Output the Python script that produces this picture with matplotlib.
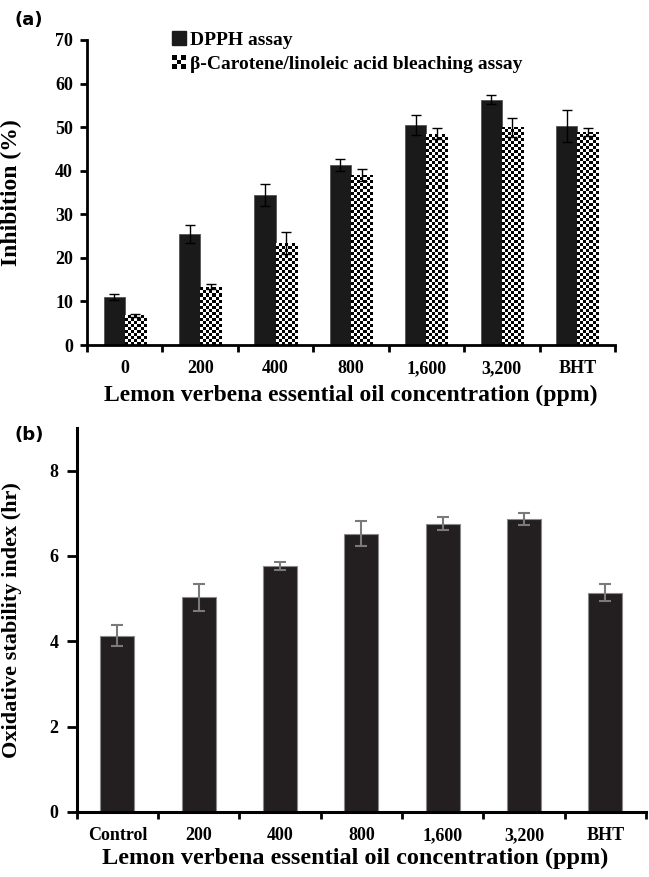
import numpy as np
import matplotlib
matplotlib.use('Agg')
import matplotlib.pyplot as plt
from matplotlib.patches import Patch, Rectangle
from matplotlib.legend_handler import HandlerBase

# DATA
CONC_A = ['0', '200', '400', '800', '1,600', '3,200', 'BHT']
DPPH = [11.1, 25.5, 34.5, 41.3, 50.5, 56.3, 50.3]
DPPH_ERR = [0.7, 2.1, 2.5, 1.4, 2.3, 1.1, 3.6]
BETA = [6.8, 13.4, 23.4, 39.0, 48.5, 50.0, 48.9]
BETA_ERR = [0.4, 0.5, 2.5, 1.4, 1.2, 2.2, 1.0]

CONC_B = ['Control', '200', '400', '800', '1,600', '3,200', 'BHT']
OSI = [4.13, 5.03, 5.77, 6.52, 6.76, 6.86, 5.14]
OSI_ERR = [0.25, 0.31, 0.10, 0.29, 0.15, 0.14, 0.20]

W, H = 649, 877
CELL_PX = 3  # size of one checker square in pixels
plt.rcParams['font.family'] = ['Liberation Serif', 'DejaVu Serif']
plt.rcParams['font.weight'] = 'bold'


class CheckerHandler(HandlerBase):
    # small 3x3 checker square for the legend
    def create_artists(self, legend, orig_handle, xdescent, ydescent,
                       width, height, fontsize, trans):
        size = min(width, height)
        x0 = -xdescent + (width - size) / 2
        y0 = -ydescent + (height - size) / 2
        c = size / 3
        artists = [Rectangle((x0, y0), size, size, facecolor='white',
                             edgecolor='none', transform=trans)]
        for i in range(3):
            for j in range(3):
                if (i + j) % 2 == 0:
                    artists.append(Rectangle((x0 + i * c, y0 + j * c), c, c,
                                             facecolor='black', edgecolor='none',
                                             transform=trans))
        return artists


def fill_checker(ax, bars, px_per_x, px_per_y):
    dx = CELL_PX / px_per_x
    dy = CELL_PX / px_per_y
    for bar in bars:
        left = bar.get_x()
        h = bar.get_height()
        ncol = int(np.ceil(bar.get_width() / dx))
        nrow = int(np.ceil(h / dy))
        grid = (np.add.outer(np.arange(nrow), np.arange(ncol)) % 2).astype(float)
        im = ax.imshow(grid, cmap='gray', vmin=0, vmax=1, origin='lower',
                       interpolation='nearest', aspect='auto',
                       extent=(left, left + ncol * dx, 0, nrow * dy), zorder=2)
        im.set_clip_path(bar)


def style_axis(ax, labels, ymax, yticks, spine_w):
    n = len(labels)
    ax.set_xlim(-0.5, n - 0.5)
    ax.set_ylim(0, ymax)
    for side in ['top', 'right']:
        ax.spines[side].set_visible(False)
    for side in ['left', 'bottom']:
        ax.spines[side].set_linewidth(spine_w)
    ax.set_xticks(np.arange(n + 1) - 0.5)
    ax.set_xticklabels([])
    ax.set_xticks(np.arange(n), minor=True)
    ax.set_xticklabels(labels, minor=True, fontsize=13, fontweight='bold')
    ax.tick_params(axis='x', which='major', direction='out', length=5, width=2)
    ax.tick_params(axis='x', which='minor', length=0, pad=11)
    ax.set_yticks(yticks)
    ax.set_yticklabels([str(t) for t in yticks], fontsize=13, fontweight='bold')
    ax.tick_params(axis='y', direction='out', length=5, width=2, pad=5)


fig = plt.figure(figsize=(W / 100, H / 100), dpi=100)

# panel (a)
ax1_w, ax1_h = 615 - 87, 345 - 40
ax1 = fig.add_axes([87 / W, 1 - 345 / H, ax1_w / W, ax1_h / H])
x = np.arange(len(CONC_A))
bw = 0.28
ax1.bar(x - bw / 2, DPPH, bw, color='#1a1a1a', edgecolor='#555555', linewidth=0.6,
        yerr=DPPH_ERR, error_kw=dict(ecolor='black', elinewidth=1, capsize=3.5, capthick=1))
beta_bars = ax1.bar(x + bw / 2, BETA, bw, color='white', linewidth=0)
style_axis(ax1, CONC_A, 70, list(range(0, 71, 10)), 2)
fill_checker(ax1, beta_bars, ax1_w / len(CONC_A), ax1_h / 70)
ax1.errorbar(x + bw / 2, BETA, yerr=BETA_ERR, fmt='none', ecolor='black',
             elinewidth=1, capsize=3.5, capthick=1, zorder=3)
ax1.set_xlim(-0.5, len(CONC_A) - 0.5)
ax1.set_ylim(0, 70)
ax1.set_ylabel('Inhibition (%)', fontsize=17, fontweight='bold')
ax1.yaxis.set_label_coords((22 - 87) / ax1_w, 0.5)

handles = [Patch(facecolor='#1a1a1a', edgecolor='#1a1a1a'), Patch()]
fig.legend(handles, ['DPPH assay', 'β-Carotene/linoleic acid bleaching assay'],
           loc='upper left', bbox_to_anchor=(172 / W, 1 - 31 / H), frameon=False,
           handler_map={handles[1]: CheckerHandler()},
           prop=dict(family=['Liberation Serif', 'DejaVu Serif'], weight='bold', size=14),
           handlelength=0.7, handleheight=0.7, handletextpad=0.25, labelspacing=0.35,
           borderpad=0, borderaxespad=0)
fig.text(351 / W, 1 - 395 / H, 'Lemon verbena essential oil concentration (ppm)',
         ha='center', va='center', fontsize=17, fontweight='bold')
fig.text(15 / W, 1 - 20 / H, '(a)', ha='left', va='center', fontsize=13,
         fontweight='bold', family='DejaVu Sans')

# panel (b)
ax2 = fig.add_axes([76.7 / W, 1 - 812 / H, (646 - 76.7) / W, (812 - 428) / H])
xb = np.arange(len(CONC_B))
ax2.bar(xb, OSI, 0.42, color='#231f20', edgecolor='#8a8a8a', linewidth=0.8,
        yerr=OSI_ERR, error_kw=dict(ecolor='#7a7a7a', elinewidth=1.5, capsize=4, capthick=1.5))
style_axis(ax2, CONC_B, 9, [0, 2, 4, 6, 8], 2.2)
ax2.tick_params(axis='y', length=7, pad=6)
ax2.set_ylabel('Oxidative stability index (hr)', fontsize=16, fontweight='bold')
ax2.yaxis.set_label_coords((22 - 76.7) / 569.3, 0.5)
fig.text(355 / W, 1 - 858 / H, 'Lemon verbena essential oil concentration (ppm)',
         ha='center', va='center', fontsize=17.5, fontweight='bold')
fig.text(15 / W, 1 - 435 / H, '(b)', ha='left', va='center', fontsize=13,
         fontweight='bold', family='DejaVu Sans')

plt.savefig('out.png', dpi=100)
